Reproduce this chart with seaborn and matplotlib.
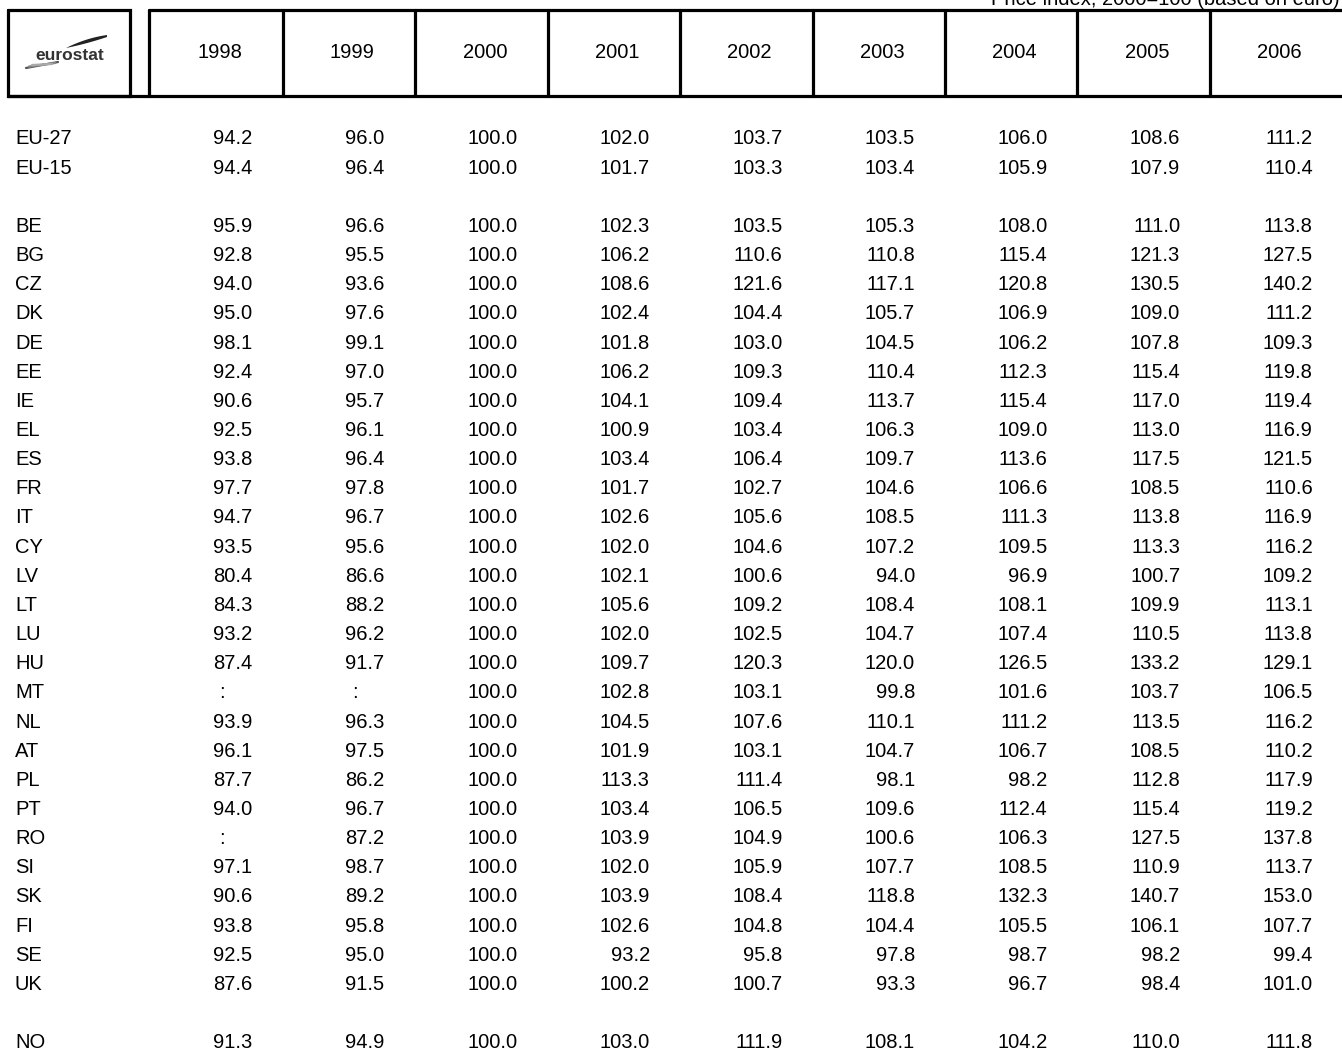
import numpy as np
import matplotlib.pyplot as plt
import seaborn as sns

# Table content
years = ["1998", "1999", "2000", "2001", "2002", "2003", "2004", "2005", "2006"]
groups = [
    ["EU-27", "EU-15"],
    ["BE", "BG", "CZ", "DK", "DE", "EE", "IE", "EL", "ES", "FR", "IT", "CY", "LV", "LT",
     "LU", "HU", "MT", "NL", "AT", "PL", "PT", "RO", "SI", "SK", "FI", "SE", "UK"],
    ["NO"],
]
# one list per year, rows in the order of the groups above (None = not available)
v1998 = [94.2, 94.4, 95.9, 92.8, 94.0, 95.0, 98.1, 92.4, 90.6, 92.5, 93.8, 97.7, 94.7, 93.5, 80.4,
         84.3, 93.2, 87.4, None, 93.9, 96.1, 87.7, 94.0, None, 97.1, 90.6, 93.8, 92.5, 87.6, 91.3]
v1999 = [96.0, 96.4, 96.6, 95.5, 93.6, 97.6, 99.1, 97.0, 95.7, 96.1, 96.4, 97.8, 96.7, 95.6, 86.6,
         88.2, 96.2, 91.7, None, 96.3, 97.5, 86.2, 96.7, 87.2, 98.7, 89.2, 95.8, 95.0, 91.5, 94.9]
v2000 = [100.0] * 30
v2001 = [102.0, 101.7, 102.3, 106.2, 108.6, 102.4, 101.8, 106.2, 104.1, 100.9, 103.4, 101.7, 102.6,
         102.0, 102.1, 105.6, 102.0, 109.7, 102.8, 104.5, 101.9, 113.3, 103.4, 103.9, 102.0, 103.9,
         102.6, 93.2, 100.2, 103.0]
v2002 = [103.7, 103.3, 103.5, 110.6, 121.6, 104.4, 103.0, 109.3, 109.4, 103.4, 106.4, 102.7, 105.6,
         104.6, 100.6, 109.2, 102.5, 120.3, 103.1, 107.6, 103.1, 111.4, 106.5, 104.9, 105.9, 108.4,
         104.8, 95.8, 100.7, 111.9]
v2003 = [103.5, 103.4, 105.3, 110.8, 117.1, 105.7, 104.5, 110.4, 113.7, 106.3, 109.7, 104.6, 108.5,
         107.2, 94.0, 108.4, 104.7, 120.0, 99.8, 110.1, 104.7, 98.1, 109.6, 100.6, 107.7, 118.8,
         104.4, 97.8, 93.3, 108.1]
v2004 = [106.0, 105.9, 108.0, 115.4, 120.8, 106.9, 106.2, 112.3, 115.4, 109.0, 113.6, 106.6, 111.3,
         109.5, 96.9, 108.1, 107.4, 126.5, 101.6, 111.2, 106.7, 98.2, 112.4, 106.3, 108.5, 132.3,
         105.5, 98.7, 96.7, 104.2]
v2005 = [108.6, 107.9, 111.0, 121.3, 130.5, 109.0, 107.8, 115.4, 117.0, 113.0, 117.5, 108.5, 113.8,
         113.3, 100.7, 109.9, 110.5, 133.2, 103.7, 113.5, 108.5, 112.8, 115.4, 127.5, 110.9, 140.7,
         106.1, 98.2, 98.4, 110.0]
v2006 = [111.2, 110.4, 113.8, 127.5, 140.2, 111.2, 109.3, 119.8, 119.4, 116.9, 121.5, 110.6, 116.9,
         116.2, 109.2, 113.1, 113.8, 129.1, 106.5, 116.2, 110.2, 117.9, 119.2, 137.8, 113.7, 153.0,
         107.7, 99.4, 101.0, 111.8]
columns = [v1998, v1999, v2000, v2001, v2002, v2003, v2004, v2005, v2006]
unit_note = "Price index, 2000=100 (based on euro)"

sns.set_theme(style="white")
plt.rcParams["font.family"] = ["Liberation Sans", "DejaVu Sans"]

W, H = 1342, 1053
fig = plt.figure(figsize=(W / 100, H / 100), dpi=100)
ax = fig.add_axes([0, 0, 1, 1])
ax.set_xlim(0, W)
ax.set_ylim(H, 0)
ax.axis("off")

fs = 14.5
lw = 2.3
col_step = 132.6
val_right = 252            # right edge of first value column
row_top = 139
row_step = 29.15

# header boxes
ax.plot([8, 130, 130, 8, 8], [10, 10, 96, 96, 10], color="black", lw=lw, solid_joinstyle="miter")
ax.plot([149, W + 5], [10, 10], color="black", lw=lw)
ax.plot([149, 149], [10, 96], color="black", lw=lw)
ax.plot([8, W + 5], [96, 96], color="black", lw=lw)
for k in range(len(years) - 1):
    xd = 283 + k * 132.4
    ax.plot([xd, xd], [10, 96], color="black", lw=lw)
for j, yr in enumerate(years):
    ax.text(220 + j * 132.4, 53, yr, ha="center", va="center", fontsize=fs, color="black")

# eurostat logo
ax.text(70, 56, "eurostat", ha="center", va="center", fontsize=12.5, fontweight="bold",
        color="#333333")
t = np.linspace(0, 1, 40)
upper_x = (1 - t) ** 2 * 66 + 2 * (1 - t) * t * 86 + t ** 2 * 107
upper_y = (1 - t) ** 2 * 48 + 2 * (1 - t) * t * 38 + t ** 2 * 35
lower_x = upper_x[::-1]
lower_y = ((1 - t) ** 2 * 48 + 2 * (1 - t) * t * 44 + t ** 2 * 37)[::-1]
ax.fill(np.r_[upper_x, lower_x], np.r_[upper_y, lower_y], color="#222222", lw=0)
for dy, c in [(0, "#555555"), (3, "#888888"), (6, "#aaaaaa")]:
    ax.plot([26 + dy, 58 - dy], [68 - dy / 2, 62 + dy / 3], color=c, lw=1.6,
            solid_capstyle="round")

# unit note (cut by the top edge)
ax.text(W - 2, 5, unit_note, ha="right", va="baseline", fontsize=fs, color="black", clip_on=False)

# body rows
i = 0
for g, names in enumerate(groups):
    for name in names:
        y = row_top + i * row_step
        ax.text(15, y, name, ha="left", va="center", fontsize=fs, color="black")
        for j, col in enumerate(columns):
            xr = val_right + j * col_step
            val = col[i - g]
            if val is None:
                ax.text(xr - 30, y, ":", ha="center", va="center", fontsize=fs, color="black")
            else:
                ax.text(xr, y, f"{val:.1f}", ha="right", va="center", fontsize=fs, color="black")
        i += 1
    i += 1

fig.savefig("out.png", dpi=100)
